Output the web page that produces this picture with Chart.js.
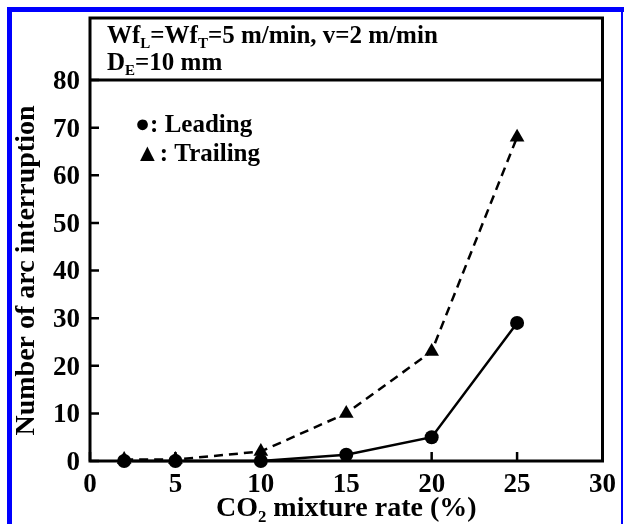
<!DOCTYPE html>
<html>
<head>
<meta charset="utf-8">
<script src="https://cdn.jsdelivr.net/npm/chart.js@4.4.1/dist/chart.umd.min.js"></script>
<style>
  html, body { margin: 0; padding: 0; background: #fff; }
  #wrap { width: 624px; height: 524px; }
</style>
</head>
<body>
<div id="wrap"><canvas id="arcChart" width="624" height="524"></canvas></div>
<script>
// Values
const co2Rate = [2, 5, 10, 15, 20, 25];
const leading = [0, 0, 0, 1.3, 5, 29];
const trailing = [0.3, 0.3, 2, 10, 23, 68];
const xTicks = [0, 5, 10, 15, 20, 25, 30];
const yTicks = [0, 10, 20, 30, 40, 50, 60, 70, 80];
const headerLines = ['Wf_{L}=Wf_{T}=5 m/min, v=2 m/min', 'D_{E}=10 mm'];
const legendLines = ['\u25CF: Leading', '\u25B2: Trailing'];

const SERIF = "'Liberation Serif', 'Times New Roman', serif";

// draws text with _{..} parts as subscripts
function drawRich(c, str, x, y, size) {
  const parts = str.split(/(_\{[^}]*\})/);
  parts.forEach(p => {
    if (!p) return;
    if (p.startsWith('_{')) {
      const s = p.slice(2, -1);
      c.font = 'bold ' + Math.round(size * 0.6) + 'px ' + SERIF;
      c.fillText(s, x, y + size * 0.3);
      x += c.measureText(s).width;
    } else {
      c.font = 'bold ' + size + 'px ' + SERIF;
      c.fillText(p, x, y);
      x += c.measureText(p).width;
    }
  });
}

const framePlugin = {
  id: 'frame',
  beforeDraw(chart) {
    const c = chart.ctx;
    c.save();
    c.fillStyle = '#fff';
    c.fillRect(0, 0, chart.width, chart.height);
    c.fillStyle = '#0000ff';
    c.fillRect(7, 7, chart.width - 7, 5);
    c.fillRect(7, 7, 5, chart.height - 7);
    c.fillRect(621, 7, 2, chart.height - 7);
    c.restore();
  },
  afterDraw(chart) {
    const c = chart.ctx;
    const a = chart.chartArea;
    const xs = chart.scales.x, ys = chart.scales.y;
    const boxTop = 18;
    c.save();
    c.strokeStyle = '#000';
    c.lineWidth = 3;
    c.strokeRect(a.left, boxTop, a.right - a.left, a.bottom - boxTop);
    c.beginPath();
    c.moveTo(a.left, a.top);
    c.lineTo(a.right, a.top);
    c.stroke();

    // inward tick marks
    c.lineWidth = 2.5;
    c.beginPath();
    xs.ticks.forEach(t => {
      const px = xs.getPixelForValue(t.value);
      c.moveTo(px, a.bottom);
      c.lineTo(px, a.bottom - 9);
    });
    ys.ticks.forEach(t => {
      const py = ys.getPixelForValue(t.value);
      c.moveTo(a.left, py);
      c.lineTo(a.left + 9, py);
    });
    c.stroke();

    // header box text
    c.fillStyle = '#000';
    c.textBaseline = 'middle';
    c.textAlign = 'left';
    headerLines.forEach((s, i) => drawRich(c, s, a.left + 17, 37 + i * 27, 25));

    // legend
    c.font = 'bold 25px ' + SERIF;
    legendLines.forEach((s, i) => c.fillText(s, a.left + 45, 126 + i * 29));
    c.restore();
  }
};

const ctx = document.getElementById('arcChart').getContext('2d');
new Chart(ctx, {
  type: 'line',
  data: {
    datasets: [
      {
        label: 'Leading',
        data: co2Rate.map((x, i) => ({ x, y: leading[i] })),
        borderColor: '#000',
        backgroundColor: '#000',
        borderWidth: 2.5,
        pointStyle: 'circle',
        pointRadius: 7,
        pointBorderWidth: 0,
        tension: 0,
        clip: false
      },
      {
        label: 'Trailing',
        data: co2Rate.map((x, i) => ({ x, y: trailing[i] })),
        borderColor: '#000',
        backgroundColor: '#000',
        borderWidth: 2.5,
        borderDash: [9, 6],
        pointStyle: 'triangle',
        pointRadius: 8.5,
        pointBorderWidth: 0,
        tension: 0,
        clip: false
      }
    ]
  },
  options: {
    responsive: false,
    animation: false,
    devicePixelRatio: 1,
    layout: { padding: { top: 80, left: 10, right: 20, bottom: 0 } },
    plugins: {
      legend: { display: false },
      tooltip: { enabled: false }
    },
    scales: {
      x: {
        type: 'linear',
        min: 0,
        max: 30,
        afterBuildTicks: s => { s.ticks = xTicks.map(v => ({ value: v })); },
        afterFit: s => { s.height = 63; },
        grid: { display: false, drawTicks: false },
        border: { display: false },
        ticks: {
          color: '#000',
          padding: 8,
          maxRotation: 0,
          font: { family: SERIF, size: 27, weight: 'bold' }
        },
        title: {
          display: true,
          text: 'CO\u2082 mixture rate (%)',
          color: '#000',
          padding: { top: 0, bottom: -2 },
          font: { family: SERIF, size: 28, weight: 'bold' }
        }
      },
      y: {
        min: 0,
        max: 80,
        afterBuildTicks: s => { s.ticks = yTicks.map(v => ({ value: v })); },
        afterFit: s => { s.width = 80; },
        grid: { display: false, drawTicks: false },
        border: { display: false },
        ticks: {
          color: '#000',
          padding: 10,
          labelOffset: 2,
          font: { family: SERIF, size: 27, weight: 'bold' }
        },
        title: {
          display: true,
          text: 'Number of arc interruption',
          color: '#000',
          padding: { top: 0, bottom: 0 },
          font: { family: SERIF, size: 28, weight: 'bold' }
        }
      }
    }
  },
  plugins: [framePlugin]
});
</script>
</body>
</html>
